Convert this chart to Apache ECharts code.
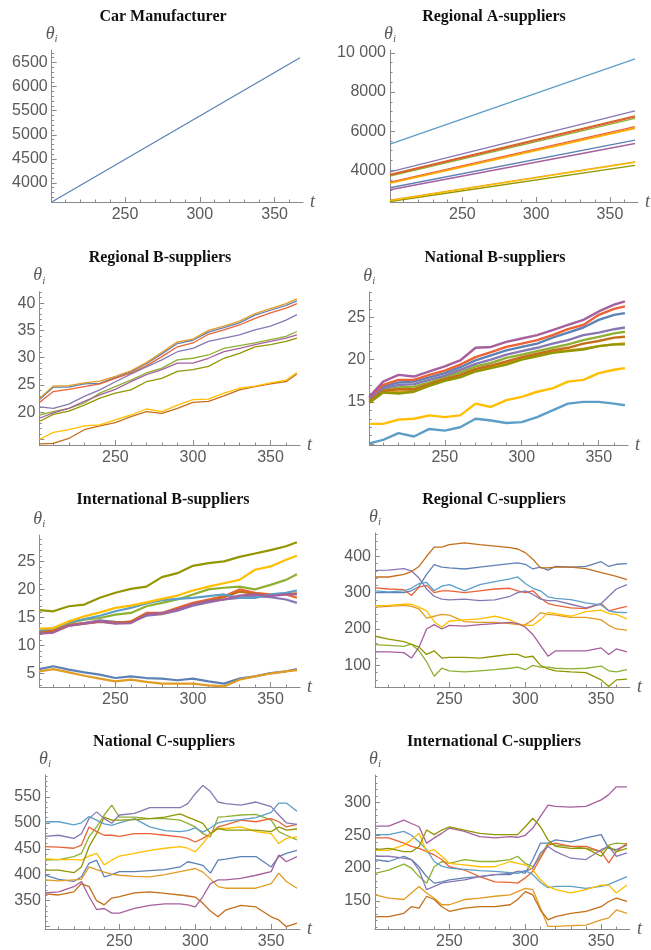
<!DOCTYPE html>
<html><head><meta charset="utf-8">
<script src="https://cdn.jsdelivr.net/npm/echarts@6/dist/echarts.min.js"></script>
<style>html,body{margin:0;padding:0;background:#fff}#c{width:651px;height:950px}</style>
</head><body><div id="c"></div>
<script>
// ---------- DATA ----------
const xTickLabels = [250, 300, 350];

// straight-line panels
const tL = [201, 367];
const carMfr = [3604, 6600];
const regA_lblue = [5337, 9691];
const regA_purple = [3914, 7034];
const regA_brown = [3794, 6777];
const regA_red2 = [3750, 6730];
const regA_green = [3709, 6657];
const regA_red = [3400, 6228];
const regA_orange2 = [3360, 6170];
const regA_yellow = [3330, 6130];
const regA_blue = [3109, 5543];
const regA_magenta = [3006, 5371];
const regA_orangeB = [2480, 4430];
const regA_yellowB = [2450, 4410];
const regA_olive = [2406, 4257];

// B-supplier panels
const tB = [201, 210, 220, 230, 240, 250, 260, 270, 280, 290, 300, 310, 320, 330, 340, 350, 360, 367];
const regB_orange = [22.5, 24.8, 24.9, 25.4, 25.7, 26.6, 27.6, 29.1, 31.0, 32.9, 33.4, 35.0, 35.8, 36.7, 38.1, 39.0, 39.9, 40.8];
const regB_blue = [22.3, 24.6, 24.6, 25.2, 25.3, 26.4, 27.4, 28.9, 30.7, 32.6, 33.2, 34.7, 35.5, 36.4, 37.8, 38.7, 39.6, 40.4];
const regB_red = [21.8, 23.8, 24.2, 24.7, 25.2, 26.2, 27.2, 28.5, 30.2, 32.0, 32.7, 34.3, 35.1, 36.0, 37.2, 38.2, 39.1, 39.9];
const regB_purple = [21.0, 20.7, 21.5, 22.9, 24.1, 25.6, 27.0, 28.3, 29.6, 31.1, 31.7, 33.0, 33.6, 34.2, 35.1, 35.8, 36.9, 37.9];
const regB_green = [19.5, 20.1, 20.7, 21.7, 23.5, 24.7, 25.9, 27.2, 28.1, 29.6, 29.9, 30.5, 31.7, 32.2, 32.7, 33.3, 33.9, 34.8];
const regB_magenta = [18.9, 19.9, 20.7, 22.0, 23.2, 24.2, 25.6, 26.9, 27.8, 29.0, 29.0, 29.9, 31.1, 31.7, 32.4, 33.0, 33.6, 34.2];
const regB_olive = [18.3, 19.6, 20.2, 21.3, 22.6, 23.5, 24.1, 25.6, 26.2, 27.5, 27.8, 28.4, 29.9, 30.8, 32.0, 32.4, 33.0, 33.6];
const regB_yellow = [15.0, 16.3, 16.8, 17.5, 17.7, 18.6, 19.5, 20.6, 20.1, 21.3, 22.3, 22.4, 23.5, 24.4, 24.8, 25.4, 25.9, 27.3];
const regB_brown = [14.2, 14.3, 15.2, 16.8, 17.5, 18.1, 19.2, 20.1, 19.8, 20.7, 21.8, 22.0, 23.0, 24.1, 24.7, 25.2, 25.6, 27.0];

const natB_magenta = [15.6, 17.4, 18.2, 18.0, 18.6, 19.2, 19.9, 21.4, 21.5, 22.1, 22.5, 22.9, 23.5, 24.1, 24.7, 25.7, 26.5, 26.9];
const natB_red = [15.5, 17.0, 17.6, 17.6, 18.2, 18.7, 19.4, 20.3, 20.9, 21.5, 21.9, 22.3, 22.9, 23.6, 24.1, 25.3, 26.0, 26.3];
const natB_blue = [15.4, 16.8, 17.3, 17.4, 17.9, 18.4, 19.1, 19.9, 20.5, 21.1, 21.5, 21.9, 22.6, 23.2, 23.8, 24.7, 25.3, 25.5];
const natB_purple = [15.3, 16.6, 17.0, 17.1, 17.6, 18.1, 18.8, 19.5, 20.0, 20.6, 21.0, 21.4, 21.9, 22.3, 22.9, 23.2, 23.6, 23.8];
const natB_green = [15.2, 16.4, 16.7, 16.8, 17.3, 17.9, 18.5, 19.2, 19.6, 20.2, 20.6, 21.0, 21.4, 21.8, 22.3, 22.7, 23.1, 23.3];
const natB_brown = [15.1, 16.3, 16.5, 16.5, 17.1, 17.7, 18.2, 18.9, 19.3, 19.8, 20.3, 20.7, 21.1, 21.4, 21.9, 22.2, 22.6, 22.7];
const natB_orange = [15.0, 16.2, 16.2, 16.3, 17.0, 17.6, 18.0, 18.8, 19.1, 19.6, 20.1, 20.5, 20.9, 21.1, 21.3, 21.6, 21.8, 21.9];
const natB_olive = [14.9, 16.1, 16.0, 16.2, 16.9, 17.5, 17.9, 18.6, 19.0, 19.4, 20.0, 20.4, 20.8, 21.0, 21.2, 21.6, 21.8, 21.8];
const natB_yellow = [12.4, 12.4, 12.9, 13.0, 13.4, 13.2, 13.4, 14.8, 14.4, 15.2, 15.6, 16.2, 16.6, 17.4, 17.6, 18.4, 18.8, 19.0];
const natB_lblue = [10.1, 10.5, 11.3, 10.9, 11.8, 11.6, 12.0, 13.0, 12.8, 12.5, 12.6, 13.2, 14.0, 14.8, 15.0, 15.0, 14.8, 14.6];

const intB_olive = [16.3, 16.1, 17.0, 17.3, 18.5, 19.4, 20.1, 20.5, 22.2, 22.9, 24.2, 24.7, 25.0, 25.8, 26.4, 27.0, 27.7, 28.4];
const intB_yellow = [13.0, 13.1, 14.3, 15.2, 15.9, 16.7, 17.1, 17.7, 18.3, 18.9, 19.8, 20.5, 21.1, 21.7, 23.5, 24.1, 25.3, 26.0];
const intB_green = [12.5, 12.8, 14.0, 14.6, 14.9, 15.5, 15.8, 17.0, 17.6, 18.2, 19.1, 20.0, 20.3, 20.5, 20.0, 20.8, 21.7, 22.7];
const intB_lblue = [12.7, 13.1, 14.1, 14.7, 15.3, 16.1, 16.7, 17.5, 18.1, 18.3, 18.5, 18.8, 19.1, 18.5, 18.5, 19.1, 19.4, 19.8];
const intB_red = [12.4, 12.6, 13.7, 14.0, 14.3, 14.0, 14.3, 15.8, 15.8, 16.7, 17.6, 18.2, 18.8, 20.0, 19.4, 19.1, 19.1, 18.5];
const intB_brown = [12.3, 12.5, 13.6, 13.9, 14.2, 14.1, 14.2, 15.6, 15.7, 16.5, 17.4, 18.0, 18.6, 19.6, 19.2, 19.0, 19.2, 19.3];
const intB_magenta = [12.1, 12.3, 13.5, 13.9, 14.3, 13.9, 14.0, 15.5, 15.8, 16.4, 17.3, 17.9, 18.2, 18.9, 19.1, 18.8, 19.1, 19.1];
const intB_purple = [12.2, 12.4, 13.6, 14.0, 14.5, 14.2, 14.1, 15.3, 15.6, 16.2, 17.1, 17.7, 18.2, 18.5, 18.8, 18.6, 18.2, 17.6];
const intB_blue = [5.8, 6.3, 5.7, 5.2, 4.8, 4.2, 4.5, 4.2, 4.1, 3.8, 4.1, 3.6, 3.2, 4.1, 4.5, 5.1, 5.4, 5.8];
const intB_orange = [5.4, 5.8, 5.2, 4.6, 4.1, 3.6, 3.9, 3.5, 3.2, 3.2, 3.2, 2.9, 2.7, 3.9, 4.5, 5.0, 5.4, 5.6];

// C-supplier panels
const tC = [201, 210, 220, 225, 230, 235, 240, 245, 250, 260, 270, 280, 290, 295, 300, 305, 310, 315, 320, 330, 340, 350, 355, 360, 367];
const regC_brown = [343, 343, 350, 358, 372, 400, 425, 425, 432, 437, 432, 428, 424, 420, 410, 392, 368, 368, 370, 370, 366, 355, 350, 345, 336];
const regC_blue = [300, 300, 300, 305, 317, 350, 377, 370, 368, 365, 370, 375, 380, 382, 378, 365, 370, 362, 372, 370, 372, 385, 372, 378, 380];
const regC_lblue = [305, 302, 305, 312, 325, 328, 305, 318, 322, 305, 322, 330, 338, 343, 325, 312, 305, 288, 284, 281, 272, 266, 250, 246, 245];
const regC_red = [313, 310, 308, 292, 315, 320, 300, 305, 305, 300, 305, 310, 312, 305, 300, 305, 285, 270, 265, 258, 256, 270, 250, 255, 262];
const regC_purple = [361, 362, 366, 360, 340, 310, 290, 282, 280, 282, 278, 280, 290, 300, 305, 295, 282, 278, 278, 268, 258, 270, 290, 310, 322];
const regC_orange = [260, 262, 265, 262, 255, 230, 235, 240, 238, 220, 218, 218, 215, 212, 212, 225, 245, 240, 238, 232, 232, 225, 210, 200, 197];
const regC_yellow = [264, 265, 268, 268, 260, 250, 220, 205, 222, 225, 228, 235, 225, 215, 210, 210, 225, 245, 242, 235, 248, 252, 242, 240, 228];
const regC_magenta = [137, 137, 135, 120, 150, 200, 212, 200, 210, 208, 212, 215, 218, 215, 205, 185, 155, 125, 140, 140, 140, 148, 130, 145, 137];
const regC_olive = [180, 172, 165, 158, 150, 130, 140, 120, 122, 122, 120, 125, 130, 130, 122, 125, 100, 90, 85, 82, 80, 60, 42, 60, 62];
const regC_green = [157, 155, 152, 158, 140, 110, 70, 92, 85, 82, 85, 88, 92, 95, 88, 100, 95, 95, 92, 90, 92, 98, 85, 82, 88];

const natC_lblue = [502, 502, 496, 500, 512, 505, 498, 495, 500, 508, 492, 485, 483, 485, 490, 482, 490, 500, 503, 506, 510, 520, 538, 538, 522];
const natC_purple = [474, 476, 470, 479, 508, 521, 508, 499, 515, 518, 529, 529, 529, 537, 556, 572, 560, 540, 537, 534, 540, 531, 515, 500, 497];
const natC_red = [454, 453, 451, 457, 492, 483, 476, 476, 474, 479, 479, 476, 473, 470, 463, 470, 479, 492, 496, 505, 502, 508, 502, 492, 497];
const natC_green = [428, 429, 435, 441, 473, 492, 515, 534, 511, 511, 508, 508, 505, 499, 492, 479, 473, 511, 512, 515, 516, 505, 483, 476, 467];
const natC_olive = [409, 409, 404, 415, 454, 479, 511, 505, 505, 506, 508, 511, 517, 511, 505, 499, 479, 489, 486, 486, 486, 483, 492, 486, 488];
const natC_yellow = [431, 429, 429, 428, 436, 441, 419, 428, 436, 441, 447, 451, 454, 451, 444, 460, 479, 489, 489, 492, 483, 479, 460, 470, 473];
const natC_blue = [399, 391, 387, 396, 422, 428, 396, 400, 406, 406, 408, 410, 415, 425, 422, 418, 403, 428, 430, 435, 435, 415, 435, 441, 447];
const natC_orange = [390, 388, 390, 391, 415, 410, 405, 401, 399, 397, 396, 400, 406, 409, 412, 405, 392, 377, 374, 374, 374, 383, 403, 387, 374];
const natC_magenta = [365, 367, 377, 387, 358, 333, 335, 326, 326, 335, 341, 344, 344, 342, 338, 358, 383, 390, 390, 393, 399, 406, 438, 425, 435];
const natC_brown = [363, 361, 367, 383, 377, 350, 342, 355, 358, 365, 367, 364, 361, 359, 357, 345, 330, 319, 332, 341, 338, 319, 313, 300, 307];

const intC_magenta = [264, 264, 273, 268, 263, 238, 246, 253, 261, 256, 248, 246, 248, 247, 250, 261, 279, 296, 294, 293, 294, 304, 312, 324, 324];
const intC_lblue = [251, 251, 256, 250, 240, 228, 210, 203, 200, 198, 196, 195, 193, 192, 196, 190, 178, 170, 172, 172, 169, 172, 175, 180, 187];
const intC_red = [246, 246, 238, 233, 230, 225, 220, 213, 202, 197, 187, 179, 178, 177, 185, 195, 215, 235, 238, 233, 233, 225, 208, 225, 238];
const intC_yellow = [227, 227, 235, 243, 253, 225, 228, 218, 207, 205, 202, 202, 210, 207, 205, 197, 182, 172, 167, 162, 167, 174, 174, 162, 174];
const intC_olive = [228, 230, 225, 225, 233, 258, 251, 258, 263, 258, 253, 251, 251, 251, 263, 276, 263, 243, 233, 230, 230, 218, 233, 225, 230];
const intC_green = [192, 197, 206, 200, 187, 177, 202, 210, 207, 213, 210, 210, 213, 218, 207, 202, 218, 238, 235, 233, 230, 225, 235, 238, 237];
const intC_purple = [218, 218, 215, 213, 197, 167, 172, 177, 179, 182, 187, 190, 192, 195, 195, 200, 223, 233, 225, 215, 213, 228, 233, 218, 223];
const intC_blue = [213, 210, 218, 213, 202, 187, 177, 179, 182, 185, 187, 190, 190, 195, 192, 213, 238, 238, 243, 240, 246, 251, 230, 228, 235];
const intC_orange = [159, 154, 152, 162, 172, 162, 154, 144, 144, 152, 154, 157, 159, 164, 169, 167, 139, 111, 111, 112, 113, 121, 124, 136, 131];
const intC_brown = [126, 126, 131, 141, 139, 157, 152, 141, 134, 139, 141, 141, 144, 152, 164, 159, 136, 121, 126, 131, 134, 141, 149, 154, 149];

// y tick labels per panel
const yLab1 = [4000, 4500, 5000, 5500, 6000, 6500];
const yLab2 = [4000, 6000, 8000, 10000];
const yLab3 = [20, 25, 30, 35, 40];
const yLab4 = [15, 20, 25];
const yLab5 = [5, 10, 15, 20, 25];
const yLab6 = [100, 200, 300, 400];
const yLab7 = [350, 400, 450, 500, 550];
const yLab8 = [150, 200, 250, 300];

// ---------- STYLE / LAYOUT ----------
const C = {blue:'#5E81B5', orange:'#E19C24', green:'#8FB032', red:'#EB6235', purple:'#8778B3', brown:'#C56E1A',
  lblue:'#5D9EC7', yellow:'#FFBF00', magenta:'#A5609D', olive:'#929600', red2:'#E95536', orange2:'#F89F13'};
const AX = '#8a8a8a', LAB = '#5a5a5a';

const panels = [
  {title:'Car Manufacturer', cx:163, ty:9, l:51.7, t:50, r:303, b:202, ymin:3604, ymax:6760, lab:yLab1, maj:yLab1, step:100, lw:1.3,
   s:[[tL,carMfr,C.blue]]},
  {title:'Regional A-suppliers', cx:494, ty:9, l:390, t:50, r:638, b:202, ymin:2380, ymax:10150, lab:yLab2, maj:yLab2, step:500, lw:1.3,
   s:[[tL,regA_blue,C.blue],[tL,regA_orangeB,C.orange],[tL,regA_green,C.green],[tL,regA_red,C.red],[tL,regA_purple,C.purple],
      [tL,regA_brown,C.brown],[tL,regA_lblue,C.lblue],[tL,regA_yellow,C.yellow],[tL,regA_magenta,C.magenta],[tL,regA_olive,C.olive],
      [tL,regA_red2,C.red2],[tL,regA_orange2,C.orange2],[tL,regA_yellowB,C.yellow]]},
  {title:'Regional B-suppliers', cx:160, ty:250, l:39.3, t:291.7, r:300, b:445, ymin:14.0, ymax:42.1, lab:yLab3, maj:[15,20,25,30,35,40], step:1, lw:1.3,
   s:[[tB,regB_blue,C.blue],[tB,regB_orange,C.orange],[tB,regB_green,C.green],[tB,regB_red,C.red],[tB,regB_purple,C.purple],
      [tB,regB_brown,C.brown],[tB,regB_yellow,C.yellow],[tB,regB_magenta,C.magenta],[tB,regB_olive,C.olive]]},
  {title:'National B-suppliers', cx:495, ty:250, l:369.3, t:292, r:628, b:445, ymin:9.9, ymax:28.0, lab:yLab4, maj:[10,15,20,25], step:1, lw:2.4,
   s:[[tB,natB_blue,C.blue],[tB,natB_orange,C.orange],[tB,natB_green,C.green],[tB,natB_red,C.red],[tB,natB_purple,C.purple],
      [tB,natB_brown,C.brown],[tB,natB_lblue,C.lblue],[tB,natB_yellow,C.yellow],[tB,natB_magenta,C.magenta],[tB,natB_olive,C.olive]]},
  {title:'International B-suppliers', cx:163, ty:492, l:39.3, t:535, r:300, b:687, ymin:2.6, ymax:29.7, lab:yLab5, maj:yLab5, step:1, lw:2.2,
   s:[[tB,intB_blue,C.blue],[tB,intB_orange,C.orange],[tB,intB_green,C.green],[tB,intB_red,C.red],[tB,intB_purple,C.purple],
      [tB,intB_brown,C.brown],[tB,intB_lblue,C.lblue],[tB,intB_yellow,C.yellow],[tB,intB_magenta,C.magenta],[tB,intB_olive,C.olive]]},
  {title:'Regional C-suppliers', cx:494, ty:492, l:375, t:533, r:630, b:687, ymin:40.4, ymax:464, lab:yLab6, maj:yLab6, step:20, lw:1.3,
   s:[[tC,regC_blue,C.blue],[tC,regC_orange,C.orange],[tC,regC_green,C.green],[tC,regC_red,C.red],[tC,regC_purple,C.purple],
      [tC,regC_brown,C.brown],[tC,regC_lblue,C.lblue],[tC,regC_yellow,C.yellow],[tC,regC_magenta,C.magenta],[tC,regC_olive,C.olive]]},
  {title:'National C-suppliers', cx:164, ty:734, l:45, t:775, r:300, b:929, ymin:295.5, ymax:592, lab:yLab7, maj:[300,350,400,450,500,550], step:10, lw:1.3,
   s:[[tC,natC_blue,C.blue],[tC,natC_orange,C.orange],[tC,natC_green,C.green],[tC,natC_red,C.red],[tC,natC_purple,C.purple],
      [tC,natC_brown,C.brown],[tC,natC_lblue,C.lblue],[tC,natC_yellow,C.yellow],[tC,natC_magenta,C.magenta],[tC,natC_olive,C.olive]]},
  {title:'International C-suppliers', cx:494, ty:734, l:375, t:775, r:630, b:929, ymin:107, ymax:342, lab:yLab8, maj:yLab8, step:10, lw:1.3,
   s:[[tC,intC_blue,C.blue],[tC,intC_orange,C.orange],[tC,intC_green,C.green],[tC,intC_red,C.red],[tC,intC_purple,C.purple],
      [tC,intC_brown,C.brown],[tC,intC_lblue,C.lblue],[tC,intC_yellow,C.yellow],[tC,intC_magenta,C.magenta],[tC,intC_olive,C.olive]]}
];

const XMIN = 201, XMAX = 369;
function range(a, b, s) { const r = []; for (let v = a; v <= b + 1e-9; v += s) r.push(Math.round(v * 1000) / 1000); return r; }
const xMinorVals = range(210, 360, 10).filter(v => !xTickLabels.includes(v));
function fmt(v) { return v >= 10000 ? Math.floor(v / 1000) + ' ' + String(v % 1000).padStart(3, '0') : String(v); }

const grids = [], xAxes = [], yAxes = [], titles = [], series = [];
const n = panels.length;
const labelStyle = {color: LAB, fontSize: 16, fontFamily: 'Liberation Sans, Arial, sans-serif'};
panels.forEach((p, i) => {
  grids.push({left: p.l, top: p.t, width: p.r - p.l, height: p.b - p.t, containLabel: false});
  titles.push({text: p.title, left: p.cx, top: p.ty, textAlign: 'center', padding: 0,
    textStyle: {fontFamily: 'Liberation Serif, Times New Roman, serif', fontWeight: 'bold', fontSize: 16, color: '#111'}});
  xAxes[i] = {gridIndex: i, type: 'value', min: XMIN, max: XMAX, position: 'bottom',
    axisLine: {show: true, onZero: false, lineStyle: {color: AX, width: 1}},
    axisTick: {show: true, inside: true, length: 5, customValues: xTickLabels, lineStyle: {color: AX}},
    axisLabel: {show: true, customValues: xTickLabels, margin: 5, ...labelStyle},
    splitLine: {show: false},
    name: 't', nameLocation: 'end', nameGap: 7,
    nameTextStyle: {fontFamily: 'Liberation Serif, serif', fontStyle: 'italic', fontSize: 18, color: LAB, verticalAlign: 'middle', align: 'left'}};
  xAxes[n + i] = {gridIndex: i, type: 'value', min: XMIN, max: XMAX, position: 'bottom',
    axisLine: {show: false}, axisTick: {show: true, inside: true, length: 2.5, customValues: xMinorVals, lineStyle: {color: AX}},
    axisLabel: {show: false}, splitLine: {show: false}};
  const yMinorVals = range(Math.ceil(p.ymin / p.step) * p.step, p.ymax, p.step).filter(v => !p.maj.includes(v));
  yAxes[i] = {gridIndex: i, type: 'value', min: p.ymin, max: p.ymax, position: 'left',
    axisLine: {show: true, onZero: false, lineStyle: {color: AX, width: 1}},
    axisTick: {show: true, inside: true, length: 5, customValues: p.maj, lineStyle: {color: AX}},
    axisLabel: {show: true, customValues: p.lab, margin: 4, formatter: fmt, ...labelStyle},
    splitLine: {show: false},
    name: '{th|θ}{sub|i}', nameLocation: 'end', nameGap: 5,
    nameTextStyle: {rich: {
      th: {fontFamily: 'Liberation Serif, serif', fontStyle: 'italic', fontSize: 18, color: LAB, lineHeight: 22},
      sub: {fontFamily: 'Liberation Serif, serif', fontStyle: 'italic', fontSize: 11, color: LAB, lineHeight: 12, verticalAlign: 'bottom'}}}};
  yAxes[n + i] = {gridIndex: i, type: 'value', min: p.ymin, max: p.ymax, position: 'left',
    axisLine: {show: false}, axisTick: {show: true, inside: true, length: 2.5, customValues: yMinorVals, lineStyle: {color: AX}},
    axisLabel: {show: false}, splitLine: {show: false}};
  p.s.forEach(([t, v, col]) => {
    series.push({type: 'line', xAxisIndex: i, yAxisIndex: i, showSymbol: false, symbol: 'none', silent: true,
      lineStyle: {color: col, width: p.lw}, itemStyle: {color: col},
      data: t.map((x, k) => [x, v[k]])});
  });
});

const chart = echarts.init(document.getElementById('c'), null, {renderer: 'canvas'});
chart.setOption({animation: false, backgroundColor: '#fff', title: titles, grid: grids, xAxis: xAxes, yAxis: yAxes, series: series});
</script></body></html>
